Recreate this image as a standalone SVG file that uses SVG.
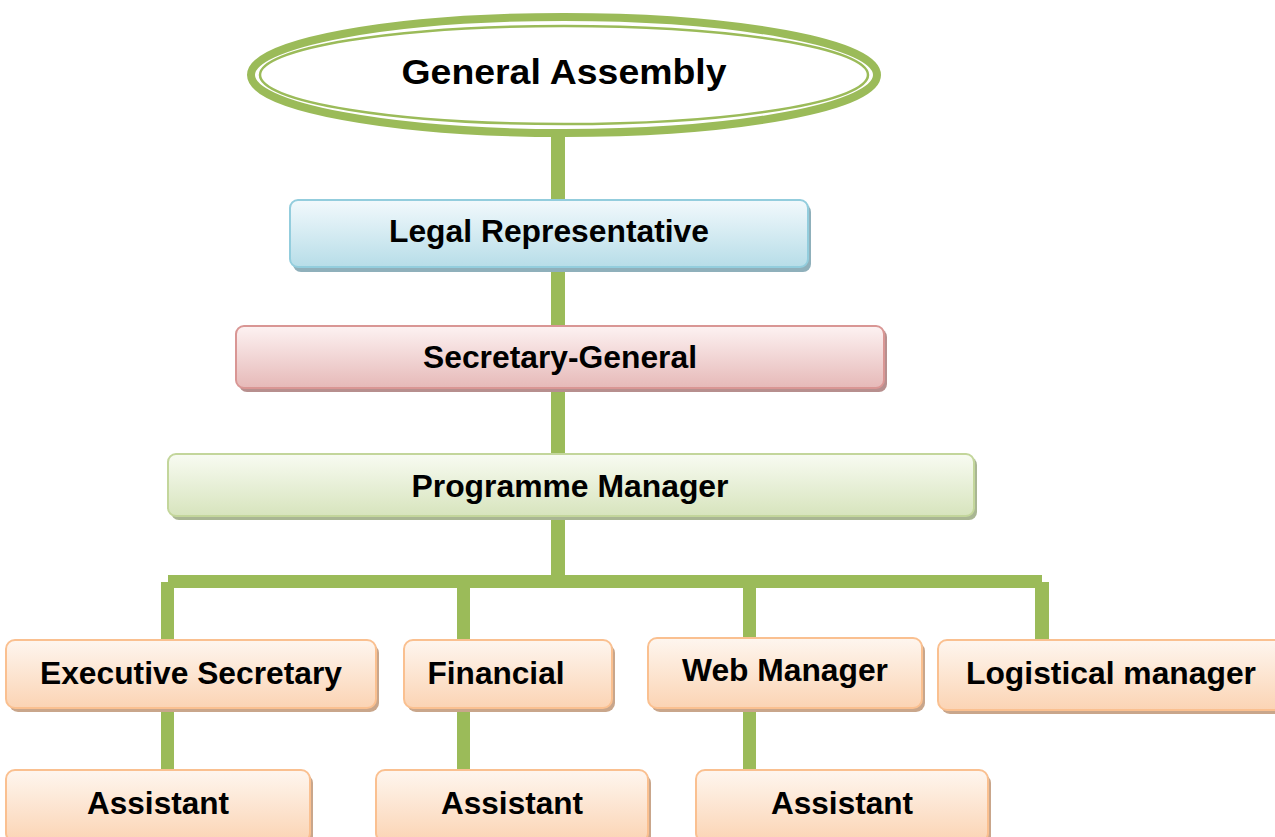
<svg xmlns="http://www.w3.org/2000/svg" width="1275" height="837" viewBox="0 0 1275 837">
<defs>
<linearGradient id="gBlue" x1="0" y1="0" x2="0" y2="1"><stop offset="0" stop-color="#f2f9fc"/><stop offset="1" stop-color="#b7dde8"/></linearGradient>
<linearGradient id="gPink" x1="0" y1="0" x2="0" y2="1"><stop offset="0" stop-color="#fdf2f2"/><stop offset="1" stop-color="#e6b9b8"/></linearGradient>
<linearGradient id="gGreen" x1="0" y1="0" x2="0" y2="1"><stop offset="0" stop-color="#f8fbf2"/><stop offset="1" stop-color="#d7e4bd"/></linearGradient>
<linearGradient id="gOrange" x1="0" y1="0" x2="0" y2="1"><stop offset="0" stop-color="#fef6ef"/><stop offset="1" stop-color="#fbd4b4"/></linearGradient>
<style>
.t{font-family:"Liberation Sans",Arial,sans-serif;font-weight:bold;fill:#000;text-anchor:middle}
.f{font-size:31px}
.conn{fill:#9bbb59}
.sb{fill:#8fb0bb}.sp{fill:#b78f8e}.sg{fill:#a9b693}.so{fill:#c9a68b}
.b{stroke:#93cddd;stroke-width:2;fill:url(#gBlue)}
.p{stroke:#d99694;stroke-width:2;fill:url(#gPink)}
.g{stroke:#c3d69b;stroke-width:2;fill:url(#gGreen)}
.o{stroke:#fac090;stroke-width:2;fill:url(#gOrange)}
</style>
</defs>
<rect width="1275" height="837" fill="#fff"/>
<g id="connectors">
<rect class="conn" x="551" y="134" width="14" height="68"/>
<rect class="conn" x="551" y="266" width="14" height="62"/>
<rect class="conn" x="551" y="388" width="14" height="68"/>
<rect class="conn" x="551" y="516" width="14" height="66"/>
<rect class="conn" x="168" y="575" width="874" height="13"/>
<rect class="conn" x="161" y="582" width="13" height="59"/>
<rect class="conn" x="457" y="582" width="13" height="59"/>
<rect class="conn" x="743" y="582" width="13" height="58"/>
<rect class="conn" x="1035" y="582" width="14" height="59"/>
<rect class="conn" x="161" y="706" width="13" height="66"/>
<rect class="conn" x="457" y="706" width="13" height="66"/>
<rect class="conn" x="743" y="706" width="13" height="66"/>
</g>
<g id="general-assembly">
<ellipse cx="564" cy="75" rx="313" ry="58" fill="#fff" stroke="#9bbb59" stroke-width="8"/>
<ellipse cx="564" cy="75" rx="304" ry="49" fill="none" stroke="#9bbb59" stroke-width="2.5"/>
<text class="t" x="564" y="84" font-size="35" textLength="325" lengthAdjust="spacingAndGlyphs">General Assembly</text>
</g>
<g id="legal-representative">
<rect class="sb" x="293" y="204" width="518" height="68" rx="8"/>
<rect class="b" x="290" y="200" width="518" height="67" rx="8"/>
<text class="t f" x="549" y="242" textLength="320" lengthAdjust="spacingAndGlyphs">Legal Representative</text>
</g>
<g id="secretary-general">
<rect class="sp" x="239" y="329" width="648" height="63" rx="8"/>
<rect class="p" x="236" y="326" width="648" height="62" rx="8"/>
<text class="t f" x="560" y="368" textLength="274" lengthAdjust="spacingAndGlyphs">Secretary-General</text>
</g>
<g id="programme-manager">
<rect class="sg" x="171" y="457" width="806" height="63" rx="8"/>
<rect class="g" x="168" y="454" width="806" height="62" rx="8"/>
<text class="t f" x="570" y="497" textLength="317" lengthAdjust="spacingAndGlyphs">Programme Manager</text>
</g>
<g id="executive-secretary">
<rect class="so" x="9" y="644" width="370" height="68" rx="9"/>
<rect class="o" x="6" y="640" width="370" height="68" rx="9"/>
<text class="t f" x="191" y="684" textLength="302" lengthAdjust="spacingAndGlyphs">Executive Secretary</text>
</g>
<g id="financial">
<rect class="so" x="407" y="644" width="208" height="68" rx="9"/>
<rect class="o" x="404" y="640" width="208" height="68" rx="9"/>
<text class="t f" x="496" y="684" textLength="137" lengthAdjust="spacingAndGlyphs">Financial</text>
</g>
<g id="web-manager">
<rect class="so" x="651" y="642" width="274" height="70" rx="9"/>
<rect class="o" x="648" y="638" width="274" height="70" rx="9"/>
<text class="t f" x="785" y="681" textLength="206" lengthAdjust="spacingAndGlyphs">Web Manager</text>
</g>
<g id="logistical-manager">
<rect class="so" x="941" y="644" width="345" height="70" rx="9"/>
<rect class="o" x="938" y="640" width="345" height="70" rx="9"/>
<text class="t f" x="1111" y="684" textLength="290" lengthAdjust="spacingAndGlyphs">Logistical manager</text>
</g>
<g id="assistant-1">
<rect class="so" x="9" y="774" width="304" height="72" rx="9"/>
<rect class="o" x="6" y="770" width="304" height="72" rx="9"/>
<text class="t f" x="158" y="814" textLength="142" lengthAdjust="spacingAndGlyphs">Assistant</text>
</g>
<g id="assistant-2">
<rect class="so" x="379" y="774" width="272" height="72" rx="9"/>
<rect class="o" x="376" y="770" width="272" height="72" rx="9"/>
<text class="t f" x="512" y="814" textLength="142" lengthAdjust="spacingAndGlyphs">Assistant</text>
</g>
<g id="assistant-3">
<rect class="so" x="699" y="774" width="292" height="72" rx="9"/>
<rect class="o" x="696" y="770" width="292" height="72" rx="9"/>
<text class="t f" x="842" y="814" textLength="142" lengthAdjust="spacingAndGlyphs">Assistant</text>
</g>
</svg>
